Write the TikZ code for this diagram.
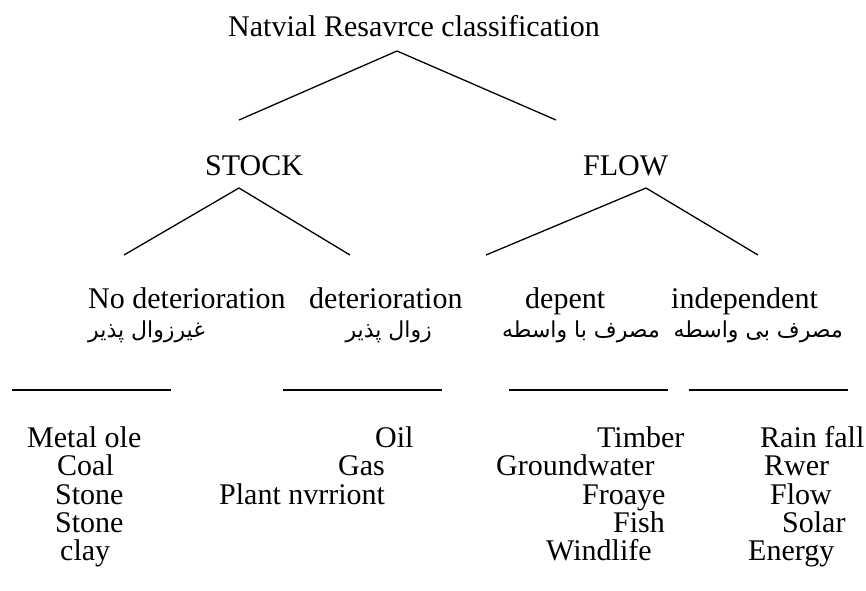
\documentclass[tikz,border=0pt]{standalone}
\usepackage{fontspec}
\setmainfont{Liberation Serif}
\newfontfamily\farsifont[Script=Arabic]{DejaVu Sans}
\TeXXeTstate=1
\usetikzlibrary{positioning}

\tikzset{
  lbl/.style={anchor=base west, inner sep=0pt, font=\fontsize{30}{36}\selectfont},
  fa/.style={anchor=base east, inner sep=0pt, font=\farsifont\fontsize{22}{26}\selectfont},
  branch/.style={line width=1.3pt},
  rule/.style={line width=1.3pt}
}

\begin{document}
\begin{tikzpicture}[x=1pt,y=-1pt]
  \useasboundingbox (0,0) rectangle (866,590);

  % Title
  \node[lbl] (root) at (228,36) {Natvial Resavrce classification};

  % First split
  \coordinate (rootapex) at (397,51);
  \coordinate (stockend) at (239,120);
  \coordinate (flowend) at (556,120);
  \draw[branch] (stockend) -- (rootapex) -- (flowend);

  \node[lbl] (stock) at (205,175) {STOCK};
  \node[lbl] (flow) at (583,175) {FLOW};

  % Stock split
  \coordinate (stockapex) at (239,188);
  \coordinate (nodetend) at (124,255);
  \coordinate (detend) at (350,255);
  \draw[branch] (nodetend) -- (stockapex) -- (detend);

  % Flow split
  \coordinate (flowapex) at (646,188);
  \coordinate (depend) at (486,255);
  \coordinate (independ) at (758,255);
  \draw[branch] (depend) -- (flowapex) -- (independ);

  % Sub classes
  \node[lbl] (nodet) at (88,308) {No deterioration};
  \node[lbl] (det) at (309,308) {deterioration};
  \node[lbl] (dep) at (525,308) {depent};
  \node[lbl] (indep) at (671,308) {independent};

  \node[fa] (nodetfa) at (205,337) {\beginR غیرزوال پذیر\endR};
  \node[fa] (detfa) at (432,337) {\beginR زوال پذیر\endR};
  \node[fa] (depfa) at (660,337) {\beginR مصرف با واسطه\endR};
  \node[fa] (indepfa) at (843,337) {\beginR مصرف بی واسطه\endR};

  % Rules
  \coordinate (r1a) at (12,390);  \coordinate (r1b) at (171,390);
  \coordinate (r2a) at (283,390); \coordinate (r2b) at (442,390);
  \coordinate (r3a) at (509,390); \coordinate (r3b) at (668,390);
  \coordinate (r4a) at (689,390); \coordinate (r4b) at (848,390);
  \draw[rule] (r1a) -- (r1b);
  \draw[rule] (r2a) -- (r2b);
  \draw[rule] (r3a) -- (r3b);
  \draw[rule] (r4a) -- (r4b);

  % No deterioration items
  \node[lbl] (metal) at (27,447) {Metal ole};
  \node[lbl] (coal) at (57,475) {Coal};
  \node[lbl] (stonea) at (55,504) {Stone};
  \node[lbl] (stoneb) at (55,532) {Stone};
  \node[lbl] (clay) at (60,560) {clay};

  % Deterioration items
  \node[lbl] (oil) at (375,447) {Oil};
  \node[lbl] (gas) at (338,475) {Gas};
  \node[lbl] (plant) at (219,504) {Plant nvrriont};

  % Dependent items
  \node[lbl] (timber) at (597,447) {Timber};
  \node[lbl] (ground) at (496,475) {Groundwater};
  \node[lbl] (froaye) at (582,504) {Froaye};
  \node[lbl] (fish) at (613,532) {Fish};
  \node[lbl] (wind) at (546,560) {Windlife};

  % Independent items
  \node[lbl] (rain) at (760,447) {Rain fall};
  \node[lbl] (rwer) at (764,475) {Rwer};
  \node[lbl] (flowitem) at (770,504) {Flow};
  \node[lbl] (solar) at (782,532) {Solar};
  \node[lbl] (energy) at (748,560) {Energy};
\end{tikzpicture}
\end{document}
